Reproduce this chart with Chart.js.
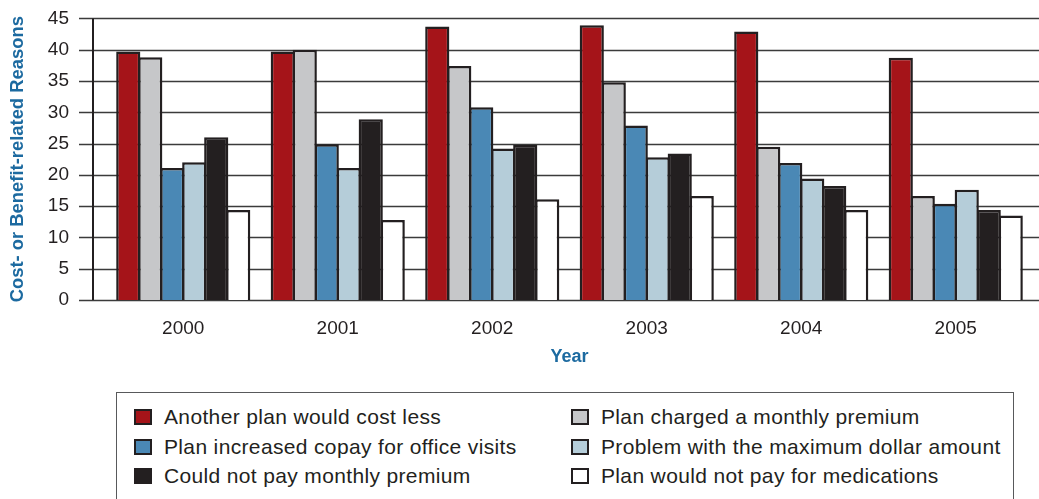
<!DOCTYPE html>
<html>
<head>
<meta charset="utf-8">
<script src="https://cdn.jsdelivr.net/npm/chart.js@4"></script>
<style>
  body { margin: 0; background: #fff; font-family: "Liberation Sans", Arial, sans-serif; }
  #wrap { position: relative; width: 1039px; height: 499px; overflow: hidden; }
  #chartBox { position: absolute; left: 0; top: -22px; width: 1039px; height: 391px; }
  #legend { position: absolute; left: 116px; top: 392px; width: 898px; height: 130px;
            border: 1.5px solid #58595b; box-sizing: border-box; }
  .item { position: absolute; height: 20px; display: flex; align-items: center;
          font-size: 21px; letter-spacing: 0.35px; color: #231f20; white-space: nowrap; }
  .item i { display: inline-block; width: 18px; height: 16px; box-sizing: border-box;
            border: 2.5px solid #231f20; margin-right: 12px; }
</style>
</head>
<body>
<div id="wrap">
  <div id="chartBox"><canvas id="c"></canvas></div>
  <div id="legend"></div>
</div>
<script>
const years = ['2000', '2001', '2002', '2003', '2004', '2005'];

const costLess      = [39.7, 39.7, 43.7, 43.9, 42.9, 38.7];
const monthlyPrem   = [38.8, 40.0, 37.4, 34.8, 24.5, 16.6];
const copayIncrease = [21.1, 24.9, 30.8, 27.9, 21.9, 15.4];
const maxDollar     = [22.0, 21.1, 24.2, 22.8, 19.4, 17.6];
const couldNotPay   = [26.0, 28.9, 24.8, 23.4, 18.2, 14.4];
const noMedication  = [14.4, 12.8, 16.1, 16.6, 14.4, 13.5];

const yTicks = [0, 5, 10, 15, 20, 25, 30, 35, 40, 45];

const ink = '#231f20';
const blueTitle = '#1c6aa0';

// grid lines run past the plot on both sides, and the y axis line sits left of the first group
const gridPlugin = {
    id: 'wideGrid',
    beforeDatasetsDraw(chart) {
        const { ctx, scales: { y } } = chart;
        ctx.save();
        ctx.strokeStyle = '#3b3b3b';
        ctx.lineWidth = 1.6;
        for (const t of yTicks) {
            const py = Math.round(y.getPixelForValue(t)) + 0.5;
            ctx.beginPath();
            ctx.moveTo(79, py);
            ctx.lineTo(chart.width, py);
            ctx.stroke();
        }
        ctx.strokeStyle = ink;
        ctx.lineWidth = 2;
        ctx.beginPath();
        ctx.moveTo(93, y.getPixelForValue(45));
        ctx.lineTo(93, y.getPixelForValue(0));
        ctx.stroke();
        ctx.restore();
    }
};

const series = [
    { label: 'Another plan would cost less', data: costLess, color: '#a51419' },
    { label: 'Plan charged a monthly premium', data: monthlyPrem, color: '#c6c7c9' },
    { label: 'Plan increased copay for office visits', data: copayIncrease, color: '#4a88b5' },
    { label: 'Problem with the maximum dollar amount', data: maxDollar, color: '#b5cdd9' },
    { label: 'Could not pay monthly premium', data: couldNotPay, color: ink },
    { label: 'Plan would not pay for medications', data: noMedication, color: '#ffffff' },
];

const chart = new Chart(document.getElementById('c'), {
    type: 'bar',
    data: {
        labels: years,
        datasets: series.map(s => ({
            label: s.label,
            data: s.data,
            backgroundColor: s.color,
            borderColor: ink,
            borderWidth: 2.5,
            borderSkipped: 'start',
            barPercentage: 1.1,
            categoryPercentage: 0.854,
        })),
    },
    options: {
        responsive: true,
        maintainAspectRatio: false,
        animation: false,
        layout: { padding: { top: 19, right: 6, left: 0, bottom: 0 } },
        plugins: {
            legend: { display: false },
            tooltip: { enabled: false },
        },
        scales: {
            x: {
                afterFit(scale) { scale.height = 69; },
                grid: { display: false },
                border: { display: false },
                ticks: { color: ink, padding: 9, maxRotation: 0, font: { family: 'Liberation Sans', size: 19 } },
                title: {
                    display: true, text: 'Year', color: blueTitle,
                    padding: { top: 7, bottom: 1 },
                    font: { family: 'Liberation Sans', size: 18, weight: 'bold' },
                },
            },
            y: {
                min: 0, max: 45,
                afterFit(scale) { scale.width = 106; },
                grid: { display: false },
                border: { display: false },
                ticks: { stepSize: 5, autoSkip: false, color: ink, padding: 29, font: { family: 'Liberation Sans', size: 19 } },
                title: {
                    display: true, text: 'Cost- or Benefit-related Reasons', color: blueTitle,
                    padding: { top: 7, bottom: 0 },
                    font: { family: 'Liberation Sans', size: 18.4, weight: 'bold' },
                },
            },
        },
    },
    plugins: [gridPlugin],
});

// two-column legend, filled row by row from the datasets
const legend = document.getElementById('legend');
chart.data.datasets.forEach((ds, i) => {
    const el = document.createElement('div');
    el.className = 'item';
    el.style.left = (i % 2 === 0 ? 17 : 454) + 'px';
    el.style.top = (14 + Math.floor(i / 2) * 29.5) + 'px';
    const box = document.createElement('i');
    box.style.background = ds.backgroundColor;
    el.appendChild(box);
    el.appendChild(document.createTextNode(ds.label));
    legend.appendChild(el);
});
</script>
</body>
</html>
